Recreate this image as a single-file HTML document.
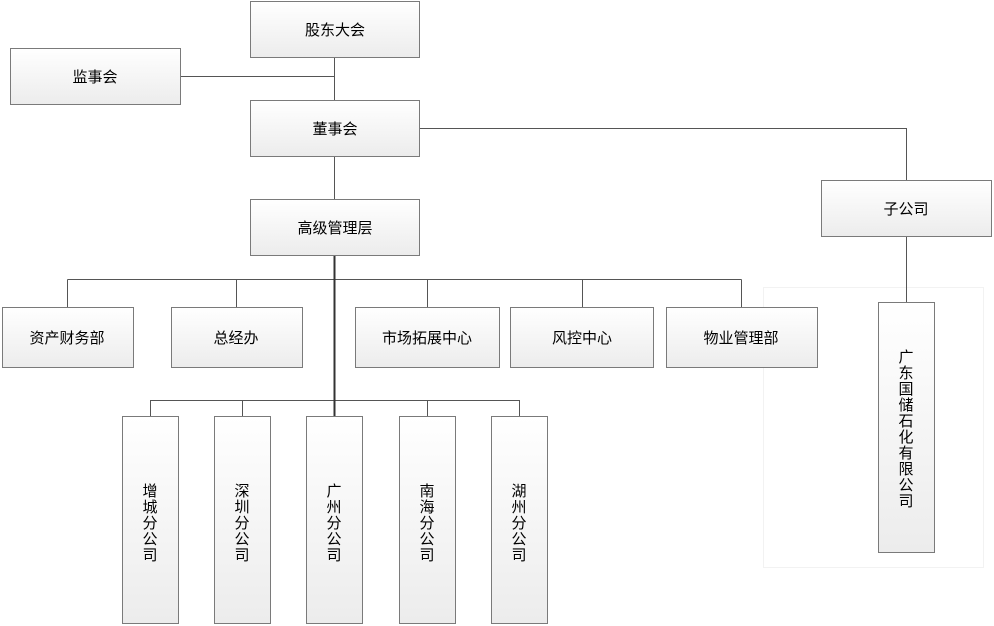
<!DOCTYPE html>
<html><head><meta charset="utf-8"><style>
body{margin:0;background:#fff;}
svg{display:block;}
text{font-family:"Liberation Sans","Noto Sans CJK SC",sans-serif;font-size:15px;fill:#000;}
</style></head><body>
<svg width="994" height="626" viewBox="0 0 994 626" xmlns="http://www.w3.org/2000/svg">
<defs>
<linearGradient id="g" x1="0" y1="0" x2="0" y2="1"><stop offset="0" stop-color="#ffffff"/><stop offset="1" stop-color="#ececec"/></linearGradient>
<linearGradient id="gh" x1="0" y1="0" x2="1" y2="0"><stop offset="0" stop-color="#ffffff"/><stop offset="1" stop-color="#ececec"/></linearGradient>
</defs>
<rect x="763.5" y="287.5" width="220" height="280" fill="none" stroke="#e6e6e6" stroke-dasharray="1,1"/>
<g stroke="#555" stroke-width="1" fill="none">
<path d="M334.5 57V100M180 76.5H334.5M334.5 156V199"/>
<path d="M419 128.5H906.5V180M906.5 236V302"/>
<path d="M67.5 279.5H741.5M67.5 279.5V307M236.5 279.5V307M427.5 279.5V307M582.5 279.5V307M741.5 279.5V307"/>
<path d="M150.5 400.5H519.5M150.5 400V416M242.5 400V416M427.5 400V416M519.5 400V416"/>
</g>
<path d="M334.5 255V416" stroke="#333" stroke-width="2"/>
<g stroke="#7a7a7a" stroke-width="1" fill="url(#g)">
<rect x="250.5" y="1.5" width="169" height="56"/>
<rect x="10.5" y="48.5" width="170" height="56"/>
<rect x="250.5" y="100.5" width="169" height="56"/>
<rect x="250.5" y="199.5" width="169" height="56"/>
<rect x="821.5" y="180.5" width="170" height="56"/>
<rect x="2.5" y="307.5" width="131" height="60"/>
<rect x="171.5" y="307.5" width="131" height="60"/>
<rect x="355.5" y="307.5" width="144" height="60"/>
<rect x="510.5" y="307.5" width="143" height="60"/>
<rect x="666.5" y="307.5" width="151" height="60"/>
<rect x="122.5" y="416.5" width="56" height="207"/>
<rect x="214.5" y="416.5" width="56" height="207"/>
<rect x="306.5" y="416.5" width="56" height="207"/>
<rect x="399.5" y="416.5" width="56" height="207"/>
<rect x="491.5" y="416.5" width="56" height="207"/>
<rect x="878.5" y="302.5" width="56" height="250"/>
</g>
<g text-anchor="middle">
<text x="335" y="35">股东大会</text>
<text x="95" y="82">监事会</text>
<text x="335" y="134">董事会</text>
<text x="335" y="233">高级管理层</text>
<text x="906" y="214">子公司</text>
<text x="67" y="343">资产财务部</text>
<text x="236" y="343">总经办</text>
<text x="427" y="343">市场拓展中心</text>
<text x="582" y="343">风控中心</text>
<text x="741" y="343">物业管理部</text>
</g>
<g text-anchor="middle">
<text x="150" y="496">增</text><text x="150" y="512">城</text><text x="150" y="528">分</text><text x="150" y="544">公</text><text x="150" y="560">司</text>
<text x="242" y="496">深</text><text x="242" y="512">圳</text><text x="242" y="528">分</text><text x="242" y="544">公</text><text x="242" y="560">司</text>
<text x="334" y="496">广</text><text x="334" y="512">州</text><text x="334" y="528">分</text><text x="334" y="544">公</text><text x="334" y="560">司</text>
<text x="427" y="496">南</text><text x="427" y="512">海</text><text x="427" y="528">分</text><text x="427" y="544">公</text><text x="427" y="560">司</text>
<text x="519" y="496">湖</text><text x="519" y="512">州</text><text x="519" y="528">分</text><text x="519" y="544">公</text><text x="519" y="560">司</text>
<text x="906" y="362">广</text><text x="906" y="378">东</text><text x="906" y="394">国</text><text x="906" y="410">储</text><text x="906" y="426">石</text><text x="906" y="442">化</text><text x="906" y="458">有</text><text x="906" y="474">限</text><text x="906" y="490">公</text><text x="906" y="506">司</text>
</g>
</svg>
</body></html>
